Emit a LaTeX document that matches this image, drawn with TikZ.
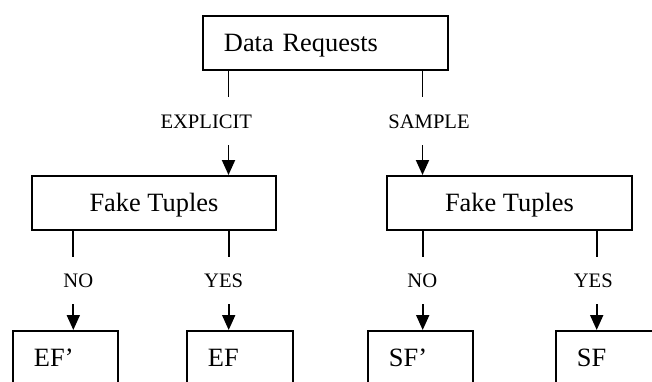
\documentclass[tikz,border=0pt]{standalone}
\usepackage{fontspec}
\setmainfont{Liberation Serif}
\usetikzlibrary{arrows.meta}
\begin{document}
\begin{tikzpicture}[x=1pt,y=-1pt,
  line width=1.9pt,
  box/.style={draw, line width=1.9pt, anchor=north west, minimum height=54pt,
    inner sep=0pt, text height=21pt, text depth=3pt,
    font=\fontsize{26.4}{30}\selectfont},
  padbox/.style={box, minimum width=#1, text width=#1, align=left},
  lbl/.style={anchor=base, inner sep=0pt, font=\fontsize{20.6}{24}\selectfont},
  arr/.style={-{Triangle[length=15pt,width=13pt]}}]
\useasboundingbox (0,0) rectangle (652,381);
\clip (0,0) rectangle (652,381);

% request box and the two decision boxes
\node[padbox=245pt] (dr) at (202,15) {\hspace*{21pt}Data Requests};
\node[box, minimum width=244pt] (ftl) at (31,175) {Fake Tuples};
\node[box, minimum width=245pt] (ftr) at (386,175) {Fake Tuples};

% result boxes along the bottom edge
\node[padbox=105pt] (efp) at (12,330)  {\hspace*{21pt}EF’};
\node[padbox=106pt] (ef)  at (186,330) {\hspace*{21pt}EF};
\node[padbox=105pt] (sfp) at (367,330) {\hspace*{21pt}SF’};
\node[padbox=105pt] (sf)  at (555,330) {\hspace*{21pt}SF};

% branch labels
\node[lbl] (lexp) at (206.3,128.3) {EXPLICIT};
\node[lbl] (lsmp) at (429,128.3) {SAMPLE};
\node[lbl] (lno1) at (78.3,287.3) {NO};
\node[lbl] (lyes1) at (223.7,287.3) {YES};
\node[lbl] (lno2) at (422.3,287.3) {NO};
\node[lbl] (lyes2) at (593.3,287.3) {YES};

% stub ends and arrow starts
\coordinate (s1) at (228.5,97);  \coordinate (a1) at (228.5,145);
\coordinate (s2) at (422.5,97);  \coordinate (a2) at (422.5,145);
\coordinate (s3) at (73.3,257);  \coordinate (a3) at (73.3,304);
\coordinate (s4) at (228.7,257); \coordinate (a4) at (228.7,304);
\coordinate (s5) at (422.7,257); \coordinate (a5) at (422.7,304);
\coordinate (s6) at (596.7,257); \coordinate (a6) at (596.7,304);

% connectors
\draw (dr.south -| s1) -- (s1);
\draw (dr.south -| s2) -- (s2);
\draw[arr] (a1) -- (a1 |- ftl.north);
\draw[arr] (a2) -- (a2 |- ftr.north);

\draw (ftl.south -| s3) -- (s3);
\draw (ftl.south -| s4) -- (s4);
\draw (ftr.south -| s5) -- (s5);
\draw (ftr.south -| s6) -- (s6);
\draw[arr] (a3) -- (a3 |- efp.north);
\draw[arr] (a4) -- (a4 |- ef.north);
\draw[arr] (a5) -- (a5 |- sfp.north);
\draw[arr] (a6) -- (a6 |- sf.north);
\end{tikzpicture}
\end{document}
